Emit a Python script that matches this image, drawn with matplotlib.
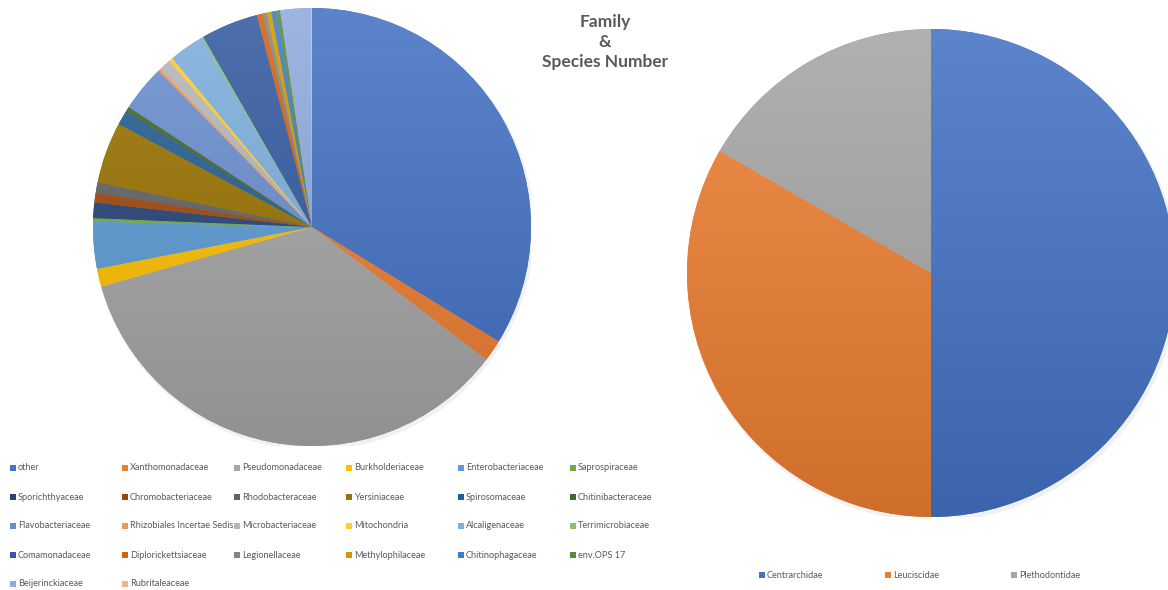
import numpy as np
import matplotlib
matplotlib.use('Agg')
import matplotlib.pyplot as plt
from matplotlib.patches import Rectangle, Circle
from matplotlib.colors import to_rgb

# share of reads per family (percent)
families = ['other', 'Xanthomonadaceae', 'Pseudomonadaceae', 'Burkholderiaceae',
            'Enterobacteriaceae', 'Saprospiraceae', 'Sporichthyaceae', 'Chromobacteriaceae',
            'Rhodobacteraceae', 'Yersiniaceae', 'Spirosomaceae', 'Chitinibacteraceae',
            'Flavobacteriaceae', 'Rhizobiales Incertae Sedis', 'Microbacteriaceae', 'Mitochondria',
            'Alcaligenaceae', 'Terrimicrobiaceae', 'Comamonadaceae', 'Diplorickettsiaceae',
            'Legionellaceae', 'Methylophilaceae', 'Chitinophagaceae', 'env.OPS 17',
            'Beijerinckiaceae', 'Rubritaleaceae']
family_share = [33.75, 1.6, 35.25, 1.33,
                3.45, 0.25, 1.14, 0.72,
                0.78, 4.5, 1.08, 0.36,
                3.42, 0.19, 0.86, 0.31,
                2.58, 0.14, 4.22, 0.44,
                0.28, 0.36, 0.39, 0.25,
                2.25, 0.08]

# species number per fish/amphibian family
species = ['Centrarchidae', 'Leuciscidae', 'Plethodontidae']
species_count = [3, 2, 1]

family_colors = ['#4472C4', '#ED7D31', '#A5A5A5', '#FFC000', '#5B9BD5', '#70AD47',
                 '#264478', '#9E480E', '#636363', '#997300', '#255E91', '#43682B',
                 '#698ED0', '#F1975A', '#B7B7B7', '#FFCD33', '#7CAFDD', '#8CC168',
                 '#335AA1', '#D26012', '#848484', '#CC9A00', '#3C7DC4', '#5A8A39',
                 '#8FAADC', '#F4B183']
species_colors = ['#4472C4', '#ED7D31', '#A5A5A5']

W, H = 1168, 590
fig = plt.figure(figsize=(W / 100, H / 100), dpi=100)
fig.patch.set_facecolor('white')


def pie_axes(cx, cy, r):
    ax = fig.add_axes([(cx - r) / W, (H - cy - r) / H, 2 * r / W, 2 * r / H])
    return ax


def shaded_pie(ax, values, colors):
    ax.add_patch(Circle((0.008, -0.012), 1.006, facecolor='#c8c8c8', alpha=0.25,
                        lw=0, zorder=0))
    wedges, _ = ax.pie(values, colors=colors, startangle=90, counterclock=False,
                       radius=1, wedgeprops=dict(linewidth=0))
    # light at the top, darker at the bottom
    t = np.linspace(0, 1, 256)[:, None, None]
    for w, c in zip(wedges, colors):
        c = np.array(to_rgb(c))
        top = c + (1 - c) * 0.13
        bottom = c * 0.88
        grad = top[None, None, :] * (1 - t) + bottom[None, None, :] * t
        im = ax.imshow(grad, extent=(-1, 1, -1, 1), origin='upper', aspect='auto',
                       interpolation='bilinear', zorder=2)
        im.set_clip_path(w)
    ax.set_xlim(-1.0, 1.0)
    ax.set_ylim(-1.0, 1.0)
    ax.set_aspect('equal')
    ax.axis('off')


def legend_entry(x, y, label, color):
    fig.add_artist(Rectangle((x / W, (H - y - 3) / H), 6 / W, 6 / H,
                             transform=fig.transFigure, facecolor=color,
                             edgecolor='none'))
    fig.text((x + 8) / W, (H - y) / H, label, fontsize=6.6, color='#595959',
             va='center', ha='left', family='Lato')


ax1 = pie_axes(312, 227, 219)
shaded_pie(ax1, family_share, family_colors)

ax2 = pie_axes(931, 273, 244)
shaded_pie(ax2, species_count, species_colors)

fig.text(605 / W, (H - 42) / H, 'Family\n&\nSpecies Number', ha='center', va='center',
         fontsize=12.5, fontweight='bold', color='#595959', family='Lato',
         linespacing=1.3)

for i, (name, col) in enumerate(zip(families, family_colors)):
    row, c = divmod(i, 6)
    legend_entry(10 + 112 * c, 468 + 29 * row, name, col)

for i, (name, col) in enumerate(zip(species, species_colors)):
    legend_entry(759 + 126 * i, 575, name, col)

fig.savefig('out.png', dpi=100, facecolor='white')
